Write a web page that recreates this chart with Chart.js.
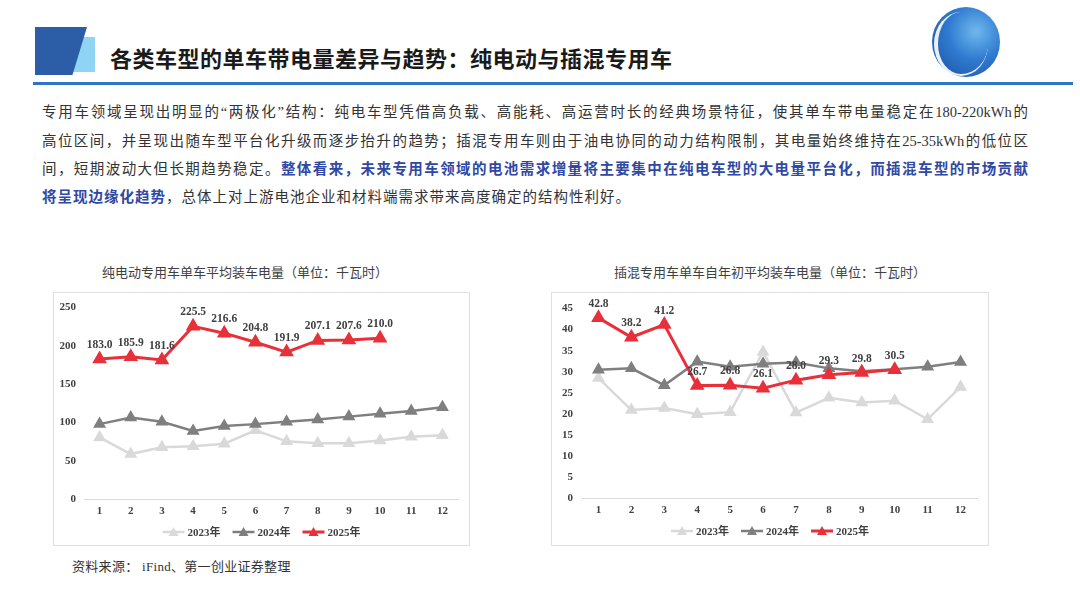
<!DOCTYPE html>
<html>
<head>
<meta charset="utf-8">
<script src="https://cdn.jsdelivr.net/npm/chart.js@4/dist/chart.umd.min.js"></script>
<style>
body { margin: 0; width: 1080px; height: 608px; background: #fff; overflow: hidden; position: relative;
  font-family: "Liberation Serif", "Noto Sans CJK SC", serif; color: #333; }
.abs { position: absolute; }
.line { position: absolute; left: 42px; width: 986px; height: 28px; line-height: 28px; font-size: 14.5px;
  text-align: justify; text-align-last: justify; }
.blue { color: #2f48a3; font-weight: bold; }
.box { position: absolute; border: 1px solid #e0e0e0; box-sizing: border-box; }
.ctitle { position: absolute; top: 262px; font-size: 13px; color: #404040; width: 400px; text-align: center;
  font-family: "Noto Sans CJK SC", sans-serif; }
</style>
</head>
<body>

<!-- header -->
<div class="abs" style="left:72px;top:37px;width:23px;height:35px;background:#8fd3f5;"></div>
<div class="abs" style="left:35px;top:27px;width:52px;height:48px;background:#2b5ea6;clip-path:polygon(0 0,100% 0,72% 100%,0 100%);filter:drop-shadow(2px 2px 2px rgba(0,0,0,.35));"></div>
<div class="abs" style="left:110px;top:41px;font-family:'Noto Sans CJK SC',sans-serif;font-weight:bold;font-size:22px;letter-spacing:0.5px;color:#1a1a1a;line-height:32px;">各类车型的单车带电量差异与趋势：纯电动与插混专用车</div>
<div class="abs" style="left:33px;top:82px;width:1040px;height:3px;background:#2e75c6;"></div>
<div class="abs" style="left:932px;top:7px;width:68px;height:70px;border-radius:50%;background:radial-gradient(circle at 65% 35%,#6fb8ee 0%,#2f7ad0 45%,#1a4c9a 100%);"></div>
<div class="abs" style="left:934px;top:12px;width:50px;height:62px;border-radius:50%;border-left:4px solid #fff;border-bottom:2px solid #fff;opacity:.9;"></div>

<!-- paragraph -->
<div class="line" style="top:98px;">专用车领域呈现出明显的“两极化”结构：纯电车型凭借高负载、高能耗、高运营时长的经典场景特征，使其单车带电量稳定在180-220kWh的</div>
<div class="line" style="top:126.5px;">高位区间，并呈现出随车型平台化升级而逐步抬升的趋势；插混专用车则由于油电协同的动力结构限制，其电量始终维持在25-35kWh的低位区</div>
<div class="line" style="top:155px;">间，短期波动大但长期趋势稳定。<span class="blue">整体看来，未来专用车领域的电池需求增量将主要集中在纯电车型的大电量平台化，而插混车型的市场贡献</span></div>
<div class="line" style="top:183px;text-align:left;text-align-last:left;letter-spacing:1px;"><span class="blue">将呈现边缘化趋势</span>，总体上对上游电池企业和材料端需求带来高度确定的结构性利好。</div>

<!-- chart titles -->
<div class="ctitle" style="left:45px;">纯电动专用车单车平均装车电量（单位：千瓦时）</div>
<div class="ctitle" style="left:570px;">插混专用车单车自年初平均装车电量（单位：千瓦时）</div>

<div class="box" style="left:53px;top:292px;width:417px;height:254px;">
  <canvas id="bevChart" width="415" height="252"></canvas>
</div>
<div class="box" style="left:551px;top:292px;width:438px;height:254px;">
  <canvas id="phevChart" width="436" height="252"></canvas>
</div>

<div class="abs" style="left:72px;top:556px;font-size:13px;letter-spacing:0.3px;color:#333;">资料来源： iFind、第一创业证券整理</div>

<script>
var months = ['1', '2', '3', '4', '5', '6', '7', '8', '9', '10', '11', '12'];
var seriesNames = ['2023年', '2024年', '2025年'];

// 纯电动专用车单车平均装车电量
var bev2023 = [80.4, 58.7, 67.6, 68.9, 72.3, 89.7, 75.3, 72.7, 72.7, 76.5, 81.2, 83.3];
var bev2024 = [97.8, 106.3, 100.8, 88.9, 95.2, 97.8, 100.8, 103.7, 107.6, 111.4, 114.8, 119.9];
var bev2025 = [183.0, 185.9, 181.6, 225.5, 216.6, 204.8, 191.9, 207.1, 207.6, 210.0, null, null];

// 插混专用车单车自年初平均装车电量
var phev2023 = [28.5, 20.9, 21.4, 19.9, 20.4, 34.7, 20.3, 23.8, 22.7, 23.1, 18.7, 26.4];
var phev2024 = [30.5, 30.8, 26.8, 32.4, 31.2, 31.9, 32.2, 30.8, 30.1, 30.6, 31.2, 32.3];
var phev2025 = [42.8, 38.2, 41.2, 26.7, 26.8, 26.1, 28.0, 29.3, 29.8, 30.5, null, null];

var colors = ['#d9d9d9', '#7f7f7f', '#e8303a'];
var tickFont = { family: "'Liberation Serif', serif", size: 11, weight: 'bold' };

// value labels above the 2025 points
var valueLabels = {
	id: 'valueLabels',
	afterDatasetsDraw(chart) {
		var ctx = chart.ctx;
		chart.data.datasets.forEach((ds, i) => {
			if (!ds.showValues) return;
			var meta = chart.getDatasetMeta(i);
			ctx.save();
			ctx.font = "bold 11.5px 'Liberation Serif', serif";
			ctx.fillStyle = '#404040';
			ctx.textAlign = 'center';
			ctx.textBaseline = 'middle';
			meta.data.forEach((pt, j) => {
				if (ds.data[j] == null) return;
				ctx.fillText(ds.data[j].toFixed(1), pt.x, pt.y - 14);
			});
			ctx.restore();
		});
	}
};

// legend: short line with triangle, like the office chart
var lineLegend = {
	id: 'lineLegend',
	afterDraw(chart, args, opts) {
		var ctx = chart.ctx;
		ctx.save();
		ctx.font = "bold 11px 'Liberation Serif', 'Noto Sans CJK SC', serif";
		var items = seriesNames.map((name, i) => ({ name: name, color: colors[i], w: 22 + 3 + ctx.measureText(name).width }));
		var gap = 12;
		var total = items.reduce((s, it) => s + it.w, 0) + gap * (items.length - 1);
		var x = chart.width / 2 - total / 2 + opts.shift;
		var y = opts.y;
		items.forEach((it, i) => {
			ctx.strokeStyle = it.color;
			ctx.fillStyle = it.color;
			ctx.lineWidth = i == 2 ? 3 : 2.5;
			ctx.beginPath();
			ctx.moveTo(x, y);
			ctx.lineTo(x + 22, y);
			ctx.stroke();
			ctx.beginPath();
			ctx.moveTo(x + 11, y - 5);
			ctx.lineTo(x + 16, y + 4);
			ctx.lineTo(x + 6, y + 4);
			ctx.closePath();
			ctx.fill();
			ctx.fillStyle = '#404040';
			ctx.textBaseline = 'middle';
			ctx.fillText(it.name, x + 25, y + 1);
			x += it.w + gap;
		});
		ctx.restore();
	}
};

function makeChart(id, d2023, d2024, d2025, yMax, yStep, layout) {
	var ctx = document.getElementById(id);
	return new Chart(ctx, {
		type: 'line',
		data: {
			labels: months,
			datasets: [{
				label: seriesNames[0],
				data: d2023,
				borderColor: colors[0],
				backgroundColor: colors[0],
				borderWidth: 2.5,
				pointStyle: 'triangle',
				pointRadius: 5,
				order: 2
			}, {
				label: seriesNames[1],
				data: d2024,
				borderColor: colors[1],
				backgroundColor: colors[1],
				borderWidth: 2.5,
				pointStyle: 'triangle',
				pointRadius: 5,
				order: 1
			}, {
				label: seriesNames[2],
				data: d2025,
				borderColor: colors[2],
				backgroundColor: colors[2],
				borderWidth: 3,
				pointStyle: 'triangle',
				pointRadius: 5.5,
				order: 0,
				showValues: true
			}]
		},
		options: {
			responsive: false,
			maintainAspectRatio: false,
			animation: false,
			layout: { padding: { left: 0, right: layout.right, top: layout.top, bottom: 0 } },
			plugins: {
				legend: { display: false },
				tooltip: { enabled: false },
				lineLegend: { y: layout.legendY, shift: 0 }
			},
			scales: {
				x: {
					offset: true,
					grid: { display: true, drawOnChartArea: false, drawTicks: false },
					border: { display: true, color: '#d9d9d9', width: 1 },
					ticks: { color: '#404040', font: tickFont, padding: 6, maxRotation: 0 },
					afterFit: s => { s.height = layout.xHeight; }
				},
				y: {
					min: 0,
					max: yMax,
					grid: { display: false, drawTicks: false },
					border: { display: false },
					ticks: { stepSize: yStep, color: '#404040', font: tickFont, padding: layout.yPad },
					afterFit: s => { s.width = 30; }
				}
			}
		},
		plugins: [valueLabels, lineLegend]
	});
}

makeChart('bevChart', bev2023, bev2024, bev2025, 250, 50,
	{ right: 11, top: 4, xHeight: 46, yPad: 8, legendY: 239 });
makeChart('phevChart', phev2023, phev2024, phev2025, 45, 5,
	{ right: 11, top: 3, xHeight: 47, yPad: 9, legendY: 238 });
</script>
</body>
</html>
